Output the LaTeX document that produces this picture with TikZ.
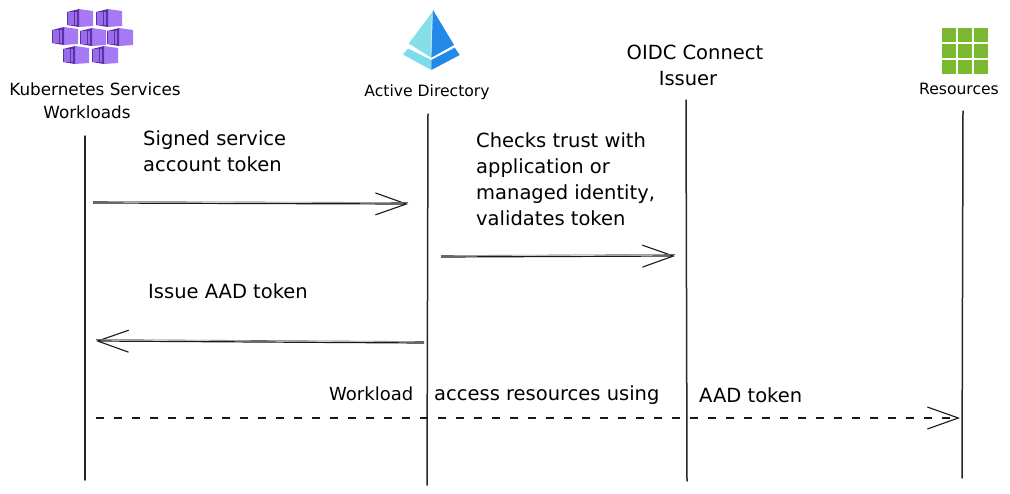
\documentclass[tikz,border=0pt]{standalone}
\usepackage{fontspec}
\setmainfont{DejaVu Sans}
\usetikzlibrary{arrows.meta}
\definecolor{boxPurple}{HTML}{A67AF4}
\definecolor{doorPurple}{HTML}{5B31A6}
\definecolor{stripePurple}{HTML}{9A6CEC}
\definecolor{adLight}{HTML}{86DEE8}
\definecolor{adPale}{HTML}{7CDCEC}
\definecolor{adBlue}{HTML}{2389E8}
\definecolor{adLine}{HTML}{C4ECF8}
\definecolor{resGreen}{HTML}{7AB92F}
\newcommand{\titleFont}{\fontsize{15.6}{26}\selectfont}
\newcommand{\sketchFont}{\fontsize{19.5}{26}\selectfont}
\tikzset{
	lifeline/.style={line width=1.5pt, black!85, line cap=round},
	message/.style={line width=1.2pt, black!90, -{Straight Barb[length=31pt, width=22pt, line width=1.1pt]}},
	messageEdge/.style={line width=.6pt, black!60},
	sketchText/.style={font=\sketchFont, inner sep=0pt, align=left, text=black},
	titleText/.style={font=\titleFont, inner sep=0pt, align=center, text=black},
	pics/container/.style={code={
		\fill[boxPurple] (12,-1) -- (26,1) -- (26,16) -- (12,17) -- cycle;
		\fill[doorPurple] (0,2) -- (12,-1) -- (12,17) -- (0,15) -- cycle;
		\foreach \stripe in {1,4.4,7.8}
			\fill[stripePurple] (\stripe,2) rectangle (\stripe+2.5,14.5);
	}}
}

\begin{document}
\begin{tikzpicture}[x=1pt, y=-1pt]
	\useasboundingbox (0,0) rectangle (1010,493);

	% containers
	\foreach \posX/\posY/\boxName in {67/10/boxA, 96/10/boxB, 52/28/boxC, 80/29/boxD, 107/29/boxE, 63/47/boxF, 92/47/boxG}
		\pic (\boxName) at (\posX,\posY) {container};

	% directory icon
	\fill[adLight] (434,10) -- (408.7,43.5) -- (431.3,57.7) -- cycle;
	\fill[adBlue] (433,10) -- (454,45) -- (431.3,57.7) -- cycle;
	\fill[adPale] (403,54.5) -- (408,48.5) -- (431.3,60) -- (431.3,70) -- cycle;
	\fill[adBlue] (431.3,60) -- (454.7,47.7) -- (459.7,55) -- (431.3,70) -- cycle;
	\draw[adLine, line width=.7pt] (432,16) -- (431,55);

	% resource grid
	\foreach \col in {0,1,2}
		\foreach \row in {0,1,2}
			\fill[resGreen] (942+16*\col,28+16*\row) rectangle +(14,14);

	\node[titleText, font=\fontsize{16.8}{26}\selectfont] (kubeTitle) at (95,89) {Kubernetes Services};
	\node[titleText, font=\fontsize{16.8}{26}\selectfont] (kubeSub) at (87,112) {Workloads};
	\node[titleText] (adTitle) at (427,92) {Active Directory};
	\node[titleText] (resTitle) at (959,89) {Resources};
	\node[titleText, font=\sketchFont] (oidcTitle) at (695,52) {OIDC Connect};
	\node[titleText, font=\sketchFont] (oidcSub) at (688,79) {Issuer};

	\coordinate (kubeTop) at (85,136);
	\coordinate (kubeEnd) at (85,480);
	\coordinate (adTop) at (428,114);
	\coordinate (adEnd) at (427,485);
	\coordinate (oidcTop) at (686,100);
	\coordinate (oidcEnd) at (687,481);
	\coordinate (resTop) at (963,111);
	\coordinate (resEnd) at (962,478);
	\draw[lifeline] (kubeTop) -- (kubeEnd);
	\draw[lifeline] (adTop) -- (adEnd);
	\draw[lifeline] (oidcTop) -- (oidcEnd);
	\draw[lifeline] (resTop) -- (resEnd);

	\coordinate (signedFrom) at (93,203);
	\coordinate (signedTo) at (408,204);
	\coordinate (checksFrom) at (441,257);
	\coordinate (checksTo) at (675,256);
	\coordinate (issueFrom) at (424,343);
	\coordinate (issueTo) at (96,341);
	\coordinate (accessFrom) at (96,418);
	\coordinate (accessTo) at (960,418);
	\draw[message] (signedFrom) -- (signedTo);
	\draw[messageEdge] ([yshift=1.5pt]signedFrom) -- ([yshift=1.5pt]signedTo);
	\draw[message] (checksFrom) -- (checksTo);
	\draw[messageEdge] ([yshift=1.5pt]checksFrom) -- ([yshift=1.5pt]checksTo);
	\draw[message] (issueFrom) -- (issueTo);
	\draw[messageEdge] ([yshift=1.5pt]issueFrom) -- ([yshift=1.5pt]issueTo);
	\draw[message, dash pattern=on 8pt off 10pt] (accessFrom) -- (accessTo);

	\node[sketchText, anchor=west] (signedLabel) at (143,151) {Signed service\\account token};
	\node[sketchText, anchor=west] (checksLabel) at (476,179) {Checks trust with\\application or\\managed identity,\\validates token};
	\node[sketchText, anchor=west] (issueLabel) at (148,291) {Issue AAD token};
	\node[sketchText, anchor=west, font=\fontsize{18}{26}\selectfont] (workloadLabel) at (329,394) {Workload};
	\node[sketchText, anchor=west] (accessLabel) at (434,395) {access resources using};
	\node[sketchText, anchor=west] (aadLabel) at (699,395) {AAD token};
\end{tikzpicture}
\end{document}
